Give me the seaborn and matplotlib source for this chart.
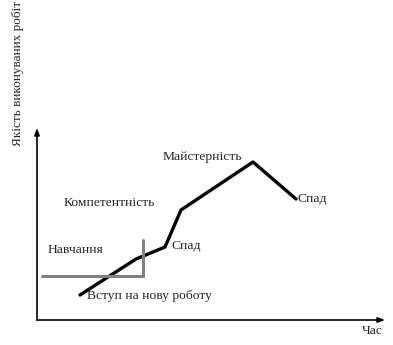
import matplotlib
matplotlib.use("Agg")
import matplotlib.pyplot as plt
import seaborn as sns
import pandas as pd

sns.set_style("white")
plt.rcParams['font.family'] = ['Liberation Serif', 'DejaVu Serif']

# career path data (time, quality)
time_pts = [43, 99, 128, 144, 216, 259]
quality_pts = [25, 61, 73, 110, 158, 121]

# training bracket (gray)
train_x = [5, 106, 106]
train_y = [44, 44, 80]

labels = ["Навчання", "Компетентність", "Майстерність", "Спад", "Спад", "Вступ на нову роботу"]
label_x = [11, 27, 126, 135, 260, 50]
label_y = [70, 117, 163, 74, 121, 24]

fig = plt.figure(figsize=(3.93, 3.45), dpi=100)
ax = fig.add_axes([37/393, 25/345, 348/393, 192/345])
ax.set_xlim(0, 348)
ax.set_ylim(0, 192)
for s in ax.spines.values():
    s.set_visible(False)
ax.set_xticks([])
ax.set_yticks([])
ax.patch.set_alpha(0)

df = pd.DataFrame({"t": time_pts, "q": quality_pts})
sns.lineplot(data=df, x="t", y="q", sort=False, color="black", linewidth=2.4, ax=ax)
ax.plot(train_x, train_y, color="#808080", linewidth=2.2, solid_joinstyle="miter")

ax.annotate("", xy=(0, 192), xytext=(0, 0),
            arrowprops=dict(arrowstyle="-|>,head_length=0.4,head_width=0.15", color="black", lw=1.2, shrinkA=0, shrinkB=0),
            annotation_clip=False)
ax.annotate("", xy=(348, 0), xytext=(0, 0),
            arrowprops=dict(arrowstyle="-|>,head_length=0.4,head_width=0.15", color="black", lw=1.2, shrinkA=0, shrinkB=0),
            annotation_clip=False)

for t, x, y in zip(labels, label_x, label_y):
    ax.text(x, y, t, fontsize=9.7, ha="left", va="center", clip_on=False)

ax.set_xlabel("")
ax.set_ylabel("")
fig.text(18/393, 1 - 73/345, "Якість виконуваних робіт", rotation=90, fontsize=9.5,
         ha="center", va="center")
fig.text(372/393, 1 - 331/345, "Час", fontsize=9.7, ha="center", va="center")

fig.savefig("out.png", dpi=100)
